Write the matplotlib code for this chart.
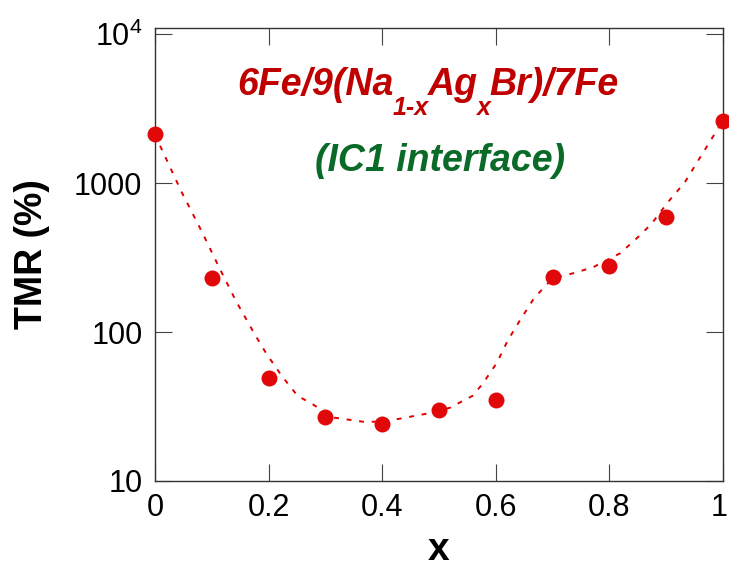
import matplotlib
matplotlib.use("Agg")
import matplotlib.pyplot as plt
import matplotlib.transforms as mtransforms
from matplotlib.ticker import FixedLocator, FixedFormatter, NullLocator

plt.rcParams['font.family'] = ['Liberation Sans', 'DejaVu Sans']
plt.rcParams['mathtext.fontset'] = 'custom'
plt.rcParams['mathtext.rm'] = 'Liberation Sans'
plt.rcParams['mathtext.default'] = 'regular'

# measured TMR values
x_pts = [0.0, 0.1, 0.2, 0.3, 0.4, 0.5, 0.6, 0.7, 0.8, 0.9, 1.0]
tmr_pts = [2130, 229, 49.4, 27.0, 24.2, 30.1, 35.1, 233, 276, 590, 2620]

# guide curve
x_fit = [0.0, 0.010, 0.047, 0.084, 0.112, 0.142, 0.174, 0.196, 0.223, 0.251,
         0.276, 0.316, 0.366, 0.401, 0.431, 0.478, 0.519, 0.559, 0.577, 0.602,
         0.621, 0.642, 0.667, 0.683, 0.700, 0.736, 0.771, 0.819, 0.854, 0.875,
         0.903, 0.933, 0.959, 0.982, 1.0]
tmr_fit = [2130, 1746, 869, 460, 276, 163, 99, 71.6, 50.9, 37.3,
           33.0, 26.6, 25.0, 25.0, 26.2, 28.3, 31.0, 37.3, 45.0, 62.3,
           87.7, 119, 168, 196, 229, 248, 272, 338, 447, 538,
           745, 1016, 1473, 2042, 2620]

ytick_vals = [10, 100, 1000, 10000]
ytick_labels = ['10', '100', '1000', r'$10^4$']
xtick_vals = [0, 0.2, 0.4, 0.6, 0.8, 1.0]
xtick_labels = ['0', '0.2', '0.4', '0.6', '0.8', '1']

# title pieces: (text, is_subscript)
title_parts = [('6Fe/9(Na', False), ('1-x', True), ('Ag', False), ('x', True), ('Br)/7Fe', False)]

W, H = 729, 568
fig = plt.figure(figsize=(W / 100, H / 100), dpi=100)
ax = fig.add_axes([0.2126, 0.1532, 0.7792, 0.7975])

ax.plot(x_fit, tmr_fit, color='#e00000', lw=1.4, dashes=(2.5, 4))
ax.plot(x_pts, tmr_pts, 'o', color='#e00808', ms=11.5, mec='none', clip_on=False, zorder=3)

ax.set_yscale('log')
ax.set_xlim(0, 1)
ax.set_ylim(10, 11000)

ax.yaxis.set_major_locator(FixedLocator(ytick_vals))
ax.yaxis.set_major_formatter(FixedFormatter(ytick_labels))
ax.yaxis.set_minor_locator(NullLocator())
ax.xaxis.set_major_locator(FixedLocator(xtick_vals))
ax.xaxis.set_major_formatter(FixedFormatter(xtick_labels))

ax.tick_params(direction='in', length=12, width=0.8, color='#444444',
               labelsize=22, top=True, right=True, pad=9)
for s in ax.spines.values():
   s.set_linewidth(1.0)
   s.set_color('#333333')

# last x label sits right on the figure edge, pull it in a touch
last = ax.get_xticklabels()[-1]
last.set_transform(last.get_transform() + mtransforms.ScaledTranslation(-3 / 72, 0, fig.dpi_scale_trans))

ax.set_xlabel('x', fontsize=28, fontweight='bold', labelpad=6)
ax.set_ylabel('TMR (%)', fontsize=27, fontweight='bold', labelpad=17)

# title built piece by piece so the subscripts sit low like the original
r = fig.canvas.get_renderer()
xpix = 237
base = H - 95
for txt, sub in title_parts:
   t = fig.text(xpix / W, (base - (20 if sub else 0)) / H, txt,
                fontsize=18 if sub else 27, fontweight='bold', style='italic',
                color='#c00000', ha='left', va='baseline')
   xpix += t.get_window_extent(renderer=r).width - 1

fig.text(440 / W, 1 - 161 / H, '(IC1 interface)', ha='center', va='center',
         fontsize=27, fontweight='bold', style='italic', color='#0a6a28')

fig.savefig('out.png', dpi=100)
